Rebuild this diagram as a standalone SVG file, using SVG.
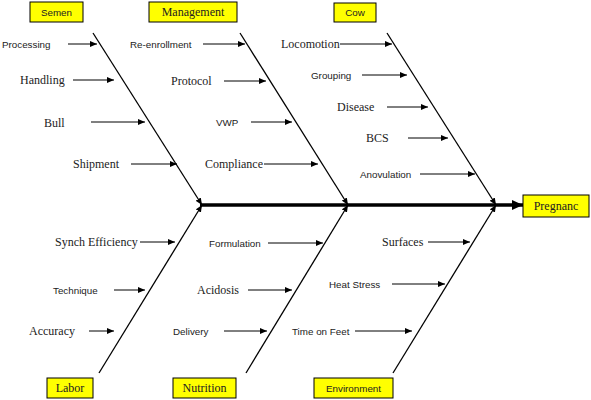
<svg xmlns="http://www.w3.org/2000/svg" width="591" height="400" viewBox="0 0 591 400">
<style>
.box{fill:#ffff00;stroke:#000;stroke-width:1}
.s{font-family:"Liberation Sans",Arial,sans-serif;font-size:9.8px;fill:#222}
.r{font-family:"Liberation Serif","Times New Roman",serif;font-size:12px;fill:#222}
.c{text-anchor:middle}
.bone{stroke:#000;stroke-width:1.3;fill:none}
.br{stroke:#000;stroke-width:1;fill:none;marker-end:url(#ah)}
</style>
<defs>
<marker id="ah" markerUnits="userSpaceOnUse" markerWidth="8" markerHeight="6" refX="7" refY="3" orient="auto"><path d="M0,0 L7,3 L0,6 z" fill="#000"/></marker>
<marker id="big" markerUnits="userSpaceOnUse" markerWidth="12" markerHeight="10" refX="11" refY="5" orient="auto"><path d="M0,0 L11,5 L0,10 z" fill="#000"/></marker>
</defs>
<rect width="591" height="400" fill="#fff"/>
<g id="connectors">
<line x1="200" y1="205" x2="523" y2="205" stroke="#000" stroke-width="3.5" marker-end="url(#big)"/>
<line class="bone" x1="93" y1="33" x2="202" y2="205" marker-end="url(#ah)"/>
<line class="bone" x1="240" y1="33" x2="348" y2="205" marker-end="url(#ah)"/>
<line class="bone" x1="387" y1="33" x2="496" y2="205" marker-end="url(#ah)"/>
<line class="bone" x1="99" y1="373" x2="202" y2="205" marker-end="url(#ah)"/>
<line class="bone" x1="246" y1="373" x2="348" y2="205" marker-end="url(#ah)"/>
<line class="bone" x1="393" y1="373" x2="496" y2="205" marker-end="url(#ah)"/>
<line class="br" x1="68" y1="44" x2="97" y2="44"/>
<line class="br" x1="73" y1="80" x2="114" y2="80"/>
<line class="br" x1="91" y1="122" x2="145" y2="122"/>
<line class="br" x1="131" y1="164" x2="177" y2="164"/>
<line class="br" x1="203" y1="44" x2="245" y2="44"/>
<line class="br" x1="224" y1="81" x2="266" y2="81"/>
<line class="br" x1="251" y1="122" x2="292" y2="122"/>
<line class="br" x1="264" y1="164" x2="318" y2="164"/>
<line class="br" x1="340" y1="44" x2="392" y2="44"/>
<line class="br" x1="362" y1="75" x2="407" y2="75"/>
<line class="br" x1="387" y1="107" x2="428" y2="107"/>
<line class="br" x1="408" y1="138" x2="448" y2="138"/>
<line class="br" x1="420" y1="174" x2="475" y2="174"/>
<line class="br" x1="140" y1="242" x2="175" y2="242"/>
<line class="br" x1="114" y1="290" x2="145" y2="290"/>
<line class="br" x1="89" y1="331" x2="114" y2="331"/>
<line class="br" x1="268" y1="243" x2="323" y2="243"/>
<line class="br" x1="248" y1="290" x2="292" y2="290"/>
<line class="br" x1="224" y1="331" x2="267" y2="331"/>
<line class="br" x1="428" y1="242" x2="470" y2="242"/>
<line class="br" x1="392" y1="284" x2="445" y2="284"/>
<line class="br" x1="355" y1="331" x2="412" y2="331"/>
</g>
<g id="semen"><rect class="box" x="30" y="2" width="53" height="20"/><text class="s c" x="56.5" y="15.5">Semen</text></g>
<g id="management"><rect class="box" x="149" y="2" width="88" height="20"/><text class="r c" x="193" y="16">Management</text></g>
<g id="cow"><rect class="box" x="334" y="3" width="42" height="19"/><text class="s c" x="355" y="16">Cow</text></g>
<g id="pregnanc"><rect class="box" x="523" y="195" width="66" height="22"/><text class="r c" x="556" y="210">Pregnanc</text></g>
<g id="labor"><rect class="box" x="47" y="378" width="46" height="20"/><text class="r c" x="70" y="392">Labor</text></g>
<g id="nutrition"><rect class="box" x="173" y="378" width="63" height="20"/><text class="r c" x="204.5" y="392">Nutrition</text></g>
<g id="environment"><rect class="box" x="314" y="378" width="79" height="20"/><text class="s c" x="353.5" y="391.5">Environment</text></g>
<g id="labels">
<text class="s" x="2" y="48">Processing</text>
<text class="r" x="20" y="84">Handling</text>
<text class="r" x="44" y="127">Bull</text>
<text class="r" x="73" y="168">Shipment</text>
<text class="s" x="130" y="48">Re-enrollment</text>
<text class="r" x="171" y="85">Protocol</text>
<text class="s" x="216" y="126">VWP</text>
<text class="r" x="205" y="168">Compliance</text>
<text class="r" x="281" y="48">Locomotion</text>
<text class="s" x="311" y="79">Grouping</text>
<text class="r" x="337" y="111">Disease</text>
<text class="r" x="366" y="142">BCS</text>
<text class="s" x="360" y="178">Anovulation</text>
<text class="r" x="55" y="246">Synch Efficiency</text>
<text class="s" x="53" y="294">Technique</text>
<text class="r" x="29" y="335">Accuracy</text>
<text class="s" x="209" y="247">Formulation</text>
<text class="r" x="197" y="294">Acidosis</text>
<text class="s" x="173" y="335">Delivery</text>
<text class="r" x="382" y="246">Surfaces</text>
<text class="s" x="329" y="288">Heat Stress</text>
<text class="s" x="292" y="335">Time on Feet</text>
</g>
</svg>
